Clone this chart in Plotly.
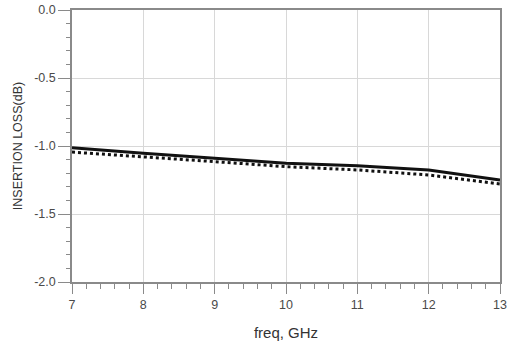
import plotly.graph_objects as go

freq = [7, 8, 9, 10, 11, 12, 13]
loss_solid = [-1.012, -1.054, -1.090, -1.127, -1.145, -1.176, -1.250]
loss_dotted = [-1.045, -1.078, -1.115, -1.152, -1.176, -1.213, -1.279]

x_ticks = [7, 8, 9, 10, 11, 12, 13]
y_ticks = [0.0, -0.5, -1.0, -1.5, -2.0]

FONT = "Liberation Sans, Arial, sans-serif"

fig = go.Figure()
fig.add_trace(go.Scatter(x=freq, y=loss_solid, mode="lines",
                         line=dict(color="#111111", width=3), showlegend=False))
fig.add_trace(go.Scatter(x=freq, y=loss_dotted, mode="lines",
                         line=dict(color="#111111", width=3, dash="dot"), showlegend=False))

fig.update_layout(
    width=507, height=348,
    margin=dict(l=72, r=7, t=10, b=66),
    paper_bgcolor="white", plot_bgcolor="white",
    font=dict(family=FONT, color="#444444"),
    xaxis=dict(
        range=[7, 13], tickvals=x_ticks, ticktext=[str(v) for v in x_ticks],
        automargin=False,
        showgrid=True, gridcolor="#d8d8d8", gridwidth=1,
        showline=True, linecolor="#8a8a8a", linewidth=1.5, mirror=True,
        ticks="outside", ticklen=10, tickcolor="#8a8a8a", tickwidth=1,
        tickfont=dict(size=12.5, color="#4a4a4a"),
        minor=dict(dtick=0.2, ticks="outside", ticklen=5, tickcolor="#8a8a8a", showgrid=False),
        zeroline=False,
        title=dict(text="freq, GHz", font=dict(size=15, color="#333333"), standoff=17),
    ),
    yaxis=dict(
        range=[-2.0, 0.0], tickvals=y_ticks, ticktext=[f"{v:.1f}" for v in y_ticks],
        automargin=False,
        showgrid=True, gridcolor="#d8d8d8", gridwidth=1,
        showline=True, linecolor="#8a8a8a", linewidth=1.5, mirror=True,
        ticks="outside", ticklen=12, tickcolor="#8a8a8a", tickwidth=1,
        tickfont=dict(size=12.5, color="#4a4a4a"),
        minor=dict(dtick=0.1, ticks="outside", ticklen=4, tickcolor="#8a8a8a", showgrid=False),
        zeroline=False,
        title=dict(text="INSERTION LOSS(dB)", font=dict(size=12.5, color="#333333"), standoff=9),
    ),
)

fig.write_html("out.html")
